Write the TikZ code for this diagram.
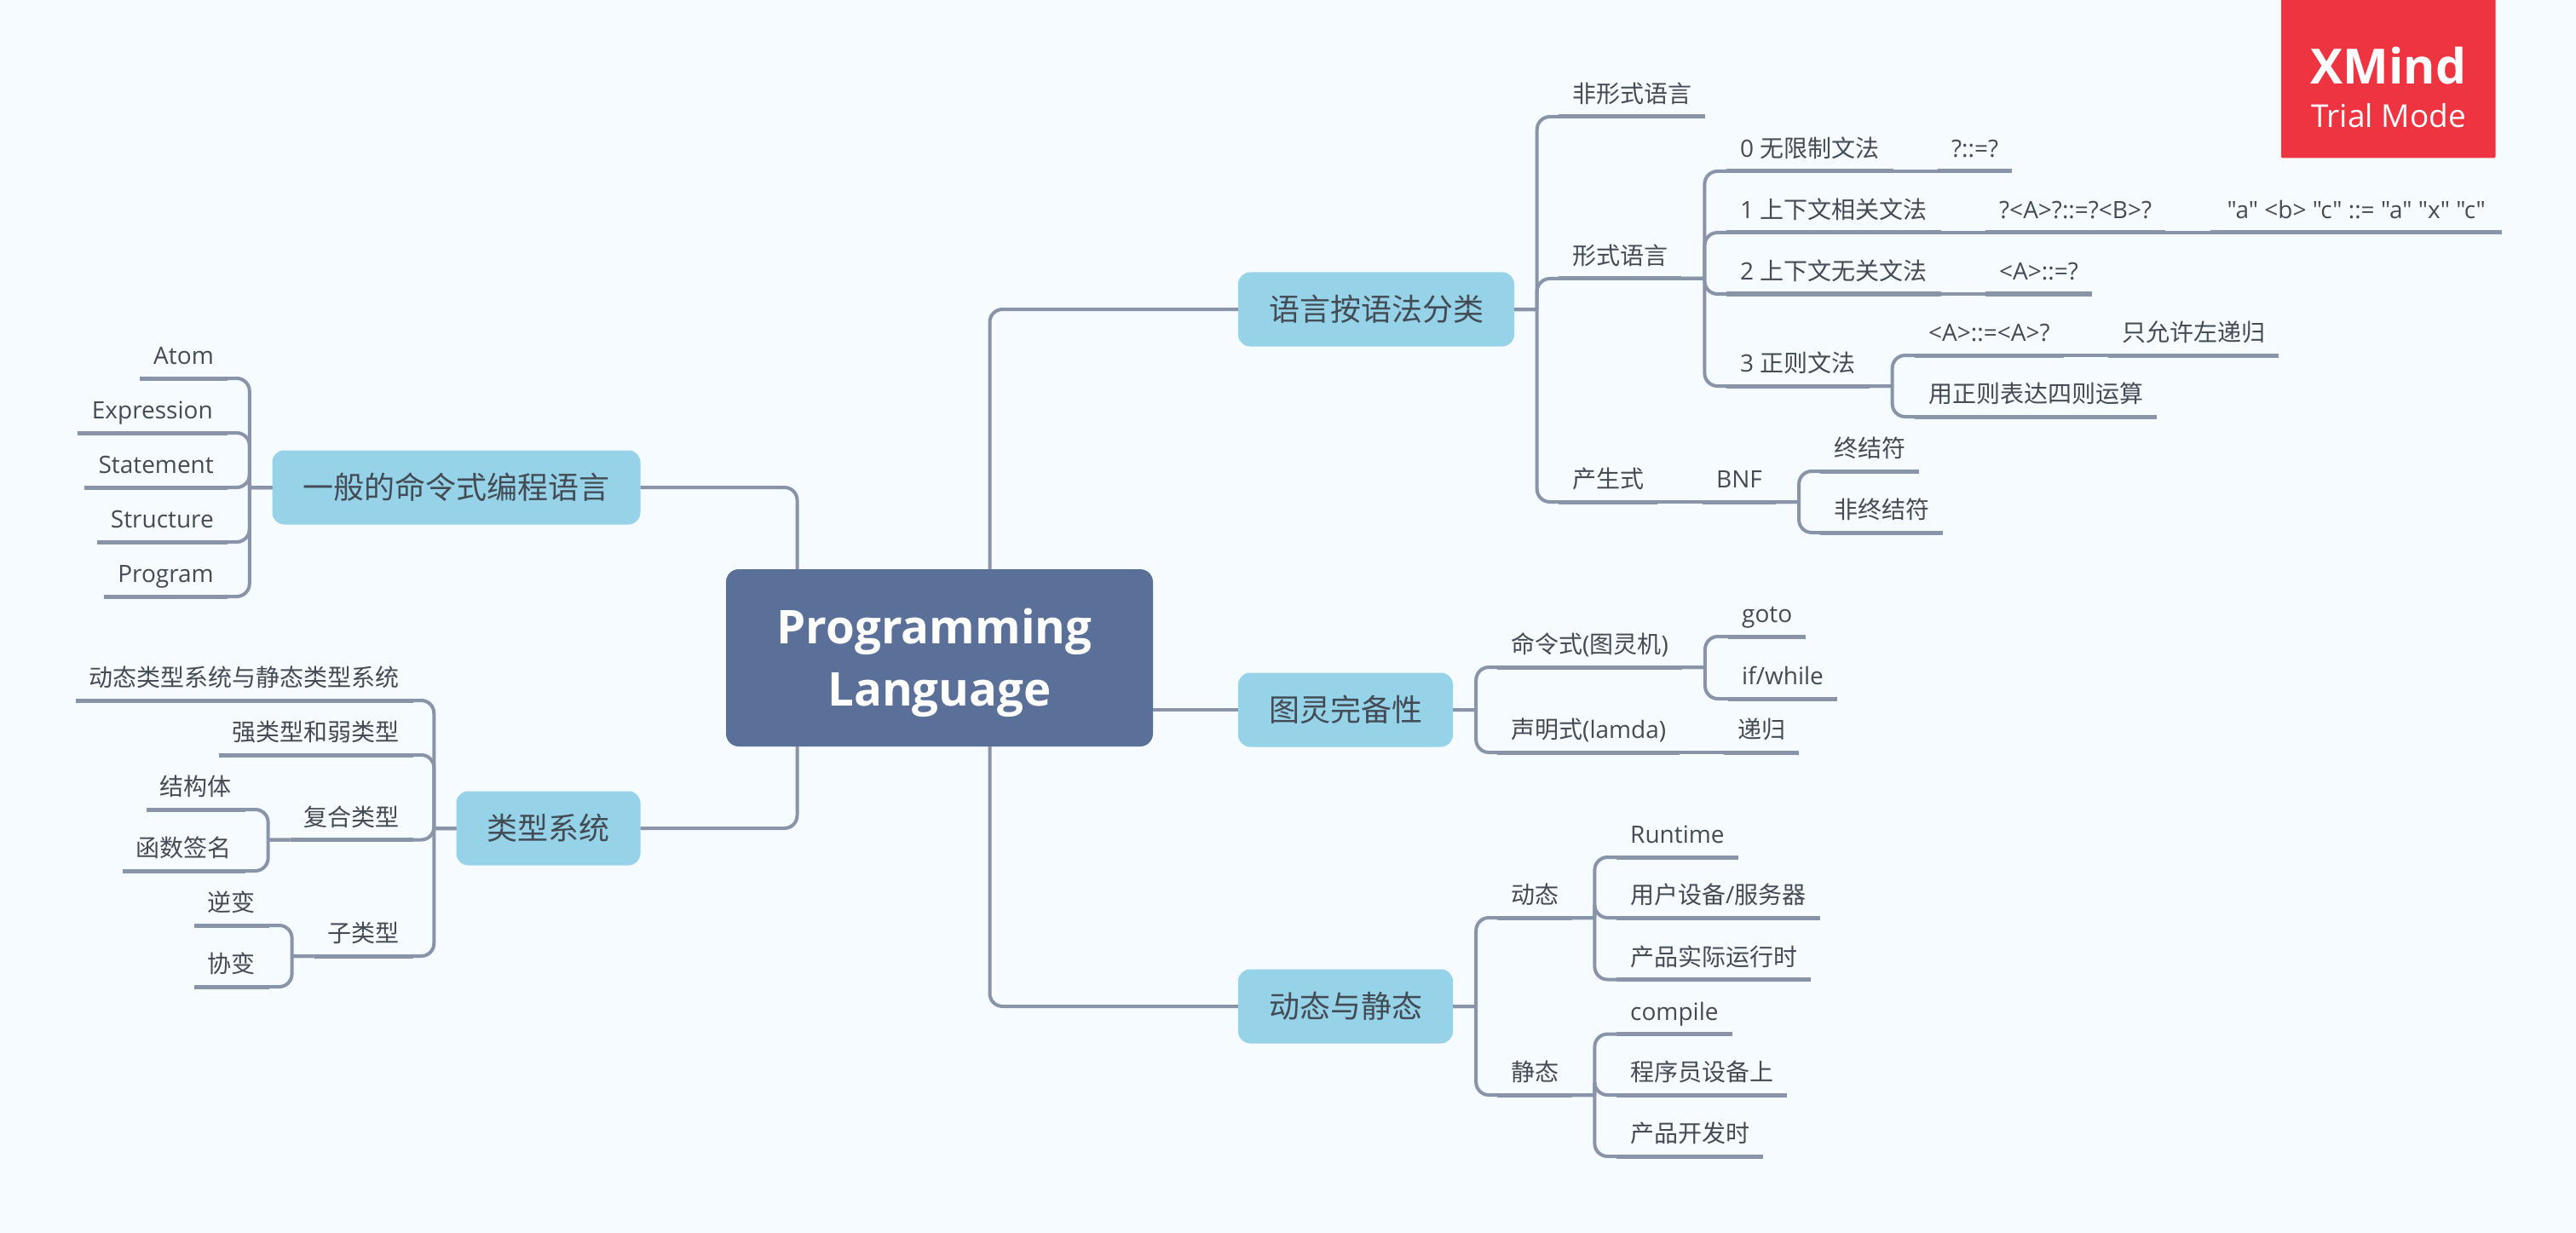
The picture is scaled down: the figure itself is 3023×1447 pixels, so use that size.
\documentclass[tikz,border=0pt]{standalone}
\usepackage{fontspec}
\setmainfont{Open Sans}
\newfontfamily\cjk{Noto Sans CJK SC}
\newfontfamily\rawquote{Open Sans}
\definecolor{paper}{HTML}{F5FBFF}
\definecolor{rootfill}{HTML}{5A7099}
\definecolor{mainfill}{HTML}{96D2E8}
\definecolor{wire}{HTML}{8A94A8}
\definecolor{ink}{HTML}{434B54}
\definecolor{badgered}{HTML}{EE3440}
\tikzset{
  link/.style={wire,line width=4pt,rounded corners=15pt},
  rule/.style={wire,line width=5pt},
  leaf/.style={font=\fontsize{28}{34}\selectfont,text=ink,inner xsep=16pt,inner ysep=0pt,
    text height=24pt,text depth=16pt,
    append after command={(\tikzlastnode.south west) edge[rule] (\tikzlastnode.south east)}},
  rleaf/.style={leaf,anchor=south west},
  lleaf/.style={leaf,anchor=south east},
  maintopic/.style={font=\fontsize{36}{44}\selectfont,text=ink,fill=mainfill,rounded corners=14pt,
    inner xsep=36pt,inner ysep=0pt,minimum height=87pt},
}
\begin{document}
\begin{tikzpicture}[x=1pt,y=-1pt]
\useasboundingbox (0,0) rectangle (3023,1447);
\fill[paper] (0,0) rectangle (3023,1447);

% central and main topics
\node[fill=rootfill,rounded corners=15pt,minimum width=501pt,minimum height=208pt] (root) at (1102.5,772) {};
\node[text=white,align=center,font=\fontsize{54.6}{73.5}\selectfont\bfseries] (rootname) at (1096.5,778) {Programming\\\hspace*{12pt}Language};
\node[maintopic] (lang) at (1615,363) {\cjk 语言按语法分类};
\node[maintopic] (turing) at (1579,833) {\cjk 图灵完备性};
\node[maintopic] (dynstat) at (1579,1181) {\cjk 动态与静态};
\node[maintopic] (imper) at (535.5,572) {\cjk 一般的命令式编程语言};
\node[maintopic] (typesys) at (643.5,972) {\cjk 类型系统};

\draw[link] (root.north -| 935.5,0) |- (imper.east);
\draw[link] (root.south -| 935.5,0) |- (typesys.east);
\draw[link] (root.north -| 1161.5,0) |- (lang.west);
\draw[link] (root.south -| 1161.5,0) |- (dynstat.west);
\draw[link] (root.east |- turing.west) -- (turing.west);

% language classes
\node[rleaf] (informal) at (1829,137) {\cjk 非形式语言};
\node[rleaf] (formal) at (1829,327) {\cjk 形式语言};
\node[rleaf] (produce) at (1829,589) {\cjk 产生式};
\node[rleaf] (bnf) at (1998,589) {BNF};
\node[rleaf] (term) at (2136,553) {\cjk 终结符};
\node[rleaf] (nonterm) at (2136,625) {\cjk 非终结符};
\node[rleaf] (gram0) at (2026,201) {0 {\cjk 无限制文法}};
\node[rleaf] (rule0) at (2274,201) {?::=?};
\node[rleaf] (gram1) at (2026,273) {1 {\cjk 上下文相关文法}};
\node[rleaf] (rule1) at (2330,273) {?<A>?::=?<B>?};
\node[rleaf,minimum width=342pt] (eg1) at (2594,273) {\rawquote "a" <b> "c" ::= "a" "x" "c"};
\node[rleaf] (gram2) at (2026,345) {2 {\cjk 上下文无关文法}};
\node[rleaf] (rule2) at (2330,345) {<A>::=?};
\node[rleaf] (gram3) at (2026,453) {3 {\cjk 正则文法}};
\node[rleaf] (rule3) at (2247,417) {<A>::=<A>?};
\node[rleaf] (leftrec) at (2474,417) {\cjk 只允许左递归};
\node[rleaf] (regex) at (2247,489) {\cjk 用正则表达四则运算};

\foreach \kid in {informal,formal,produce}
  \draw[link] (lang.east) -- ++(26.5,0) ++(0,0) |- (\kid.south west);
\foreach \kid in {gram0,gram1,gram2,gram3}
  \draw[link] (formal.south east) -- ++(27,0) ++(0,0) |- (\kid.south west);
\foreach \kid in {rule3,regex}
  \draw[link] (gram3.south east) -- ++(27,0) ++(0,0) |- (\kid.south west);
\foreach \kid in {term,nonterm}
  \draw[link] (bnf.south east) -- ++(27,0) ++(0,0) |- (\kid.south west);
\draw[link] (produce.south east) -- (bnf.south west);
\draw[link] (gram0.south east) -- (rule0.south west);
\draw[link] (gram1.south east) -- (rule1.south west);
\draw[link] (rule1.south east) -- (eg1.south west);
\draw[link] (gram2.south east) -- (rule2.south west);
\draw[link] (rule3.south east) -- (leftrec.south west);

% turing completeness
\node[rleaf] (command) at (1757,783) {{\cjk 命令式}({\cjk 图灵机})};
\node[rleaf] (goto) at (2028,747) {goto};
\node[rleaf] (ifwhile) at (2028,820) {if/while};
\node[rleaf] (declare) at (1757,883) {{\cjk 声明式}(lamda)};
\node[rleaf] (recur) at (2023,883) {\cjk 递归};

\foreach \kid in {command,declare}
  \draw[link] (turing.east) -- ++(27,0) ++(0,0) |- (\kid.south west);
\foreach \kid in {goto,ifwhile}
  \draw[link] (command.south east) -- ++(27,0) ++(0,0) |- (\kid.south west);
\draw[link] (declare.south east) -- (recur.south west);

% dynamic and static
\node[rleaf] (dyn) at (1757,1077) {\cjk 动态};
\node[rleaf] (runtime) at (1897,1006) {Runtime};
\node[rleaf] (userdev) at (1897,1077) {{\cjk 用户设备}/{\cjk 服务器}};
\node[rleaf] (prodrun) at (1897,1149.5) {\cjk 产品实际运行时};
\node[rleaf] (stat) at (1757,1285) {\cjk 静态};
\node[rleaf] (compile) at (1897,1213.5) {compile};
\node[rleaf] (progdev) at (1897,1285) {\cjk 程序员设备上};
\node[rleaf] (proddev) at (1897,1357) {\cjk 产品开发时};

\foreach \kid in {dyn,stat}
  \draw[link] (dynstat.east) -- ++(27,0) ++(0,0) |- (\kid.south west);
\foreach \kid in {runtime,userdev,prodrun}
  \draw[link] (dyn.south east) -- ++(26,0) ++(0,0) |- (\kid.south west);
\foreach \kid in {compile,progdev,proddev}
  \draw[link] (stat.south east) -- ++(26,0) ++(0,0) |- (\kid.south west);

% imperative languages
\node[lleaf] (atom) at (267,444) {Atom};
\node[lleaf,minimum width=176pt] (expr) at (267,508) {Expression};
\node[lleaf] (stmt) at (267,572) {Statement};
\node[lleaf] (struct) at (267,636) {Structure};
\node[lleaf] (prog) at (267,700) {Program};

\foreach \kid in {atom,expr,stmt,struct,prog}
  \draw[link] (imper.west) -- ++(-26.5,0) ++(0,0) |- (\kid.south east);

% type systems
\node[lleaf] (dynvs) at (485,822) {\cjk 动态类型系统与静态类型系统};
\node[lleaf] (strong) at (485,886) {\cjk 强类型和弱类型};
\node[lleaf] (compound) at (485,985.5) {\cjk 复合类型};
\node[lleaf] (structs) at (288,950) {\cjk 结构体};
\node[lleaf] (funcsig) at (288,1022) {\cjk 函数签名};
\node[lleaf] (subtype) at (485,1122) {\cjk 子类型};
\node[lleaf] (contra) at (316,1086) {\cjk 逆变};
\node[lleaf] (cov) at (316,1158) {\cjk 协变};

\foreach \kid in {dynvs,strong,compound,subtype}
  \draw[link] (typesys.west) -- ++(-26,0) ++(0,0) |- (\kid.south east);
\foreach \kid in {structs,funcsig}
  \draw[link] (compound.south west) -- ++(-26,0) ++(0,0) |- (\kid.south east);
\foreach \kid in {contra,cov}
  \draw[link] (subtype.south west) -- ++(-26,0) ++(0,0) |- (\kid.south east);

% trial badge
\fill[badgered,rounded corners=2pt] (2677,-4) rectangle (2928.5,185.5);
\node[anchor=base,text=white,font=\fontsize{57}{60}\selectfont\bfseries] (xmind) at (2803,99) {XMind};
\node[anchor=base,text=white,font=\fontsize{37}{40}\selectfont] (trial) at (2803,149.5) {Trial Mode};
\end{tikzpicture}
\end{document}
